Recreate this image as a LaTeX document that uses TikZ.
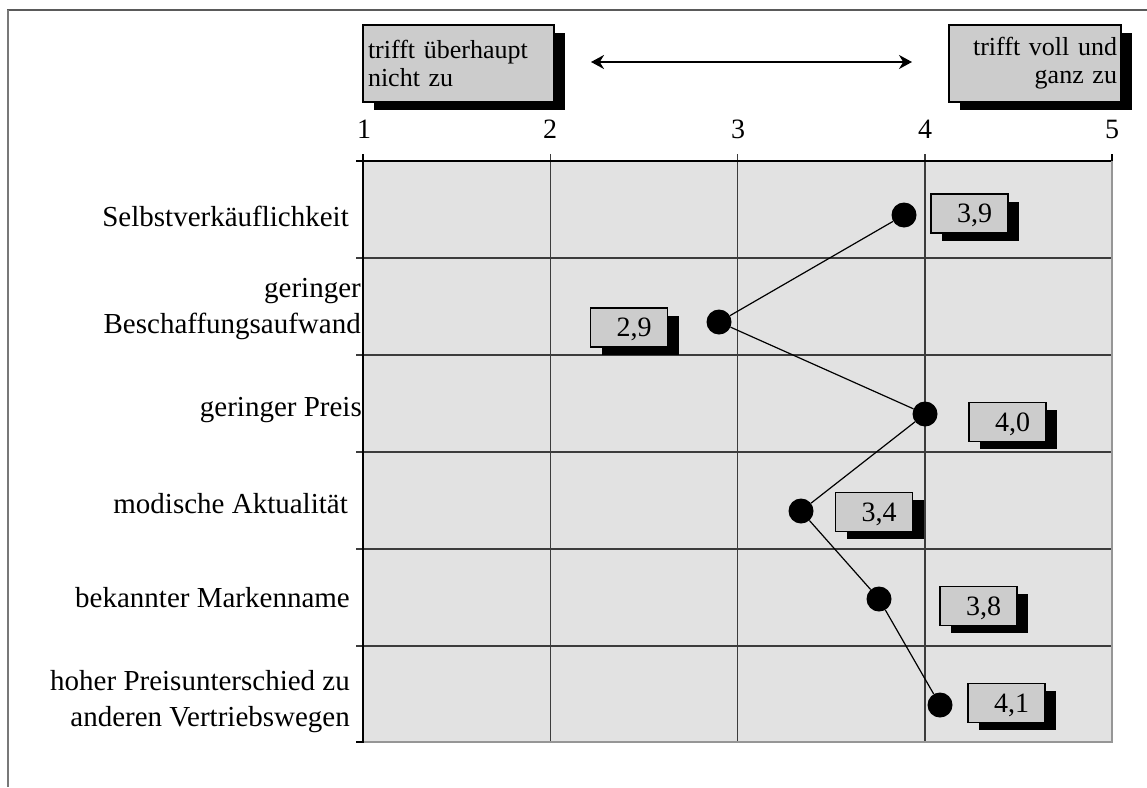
\documentclass[tikz,border=0pt]{standalone}
\usepackage{fontspec}
\setmainfont{Liberation Serif}
\usetikzlibrary{arrows.meta,shadows}
\definecolor{plotgray}{RGB}{226,226,226}
\definecolor{boxgray}{RGB}{204,204,204}
\definecolor{framegray}{RGB}{90,90,90}
\definecolor{leftgray}{RGB}{120,120,120}
\definecolor{edgegray}{RGB}{150,150,150}
\definecolor{gridgray}{RGB}{60,60,60}
\begin{document}
\begin{tikzpicture}[x=1pt,y=-1pt,
  every node/.style={font=\fontsize{29}{36}\selectfont},
  shadowbox/.style={draw=black, fill=boxgray, line width=1.5pt, inner sep=0pt,
    drop shadow={shadow xshift=11pt, shadow yshift=-7.5pt, fill=black, opacity=1}},
  headbox/.style={shadowbox, minimum height=77pt, font=\fontsize{26}{28}\selectfont},
  valbox/.style={shadowbox, minimum width=77pt, minimum height=39pt, text depth=0pt,
    font=\fontsize{28}{30}\selectfont},
  dot/.style={circle, fill=black, minimum size=25pt, inner sep=0pt},
  rowlabel/.style={anchor=east, align=right, inner sep=0pt},
  axisnum/.style={anchor=base, inner sep=0pt, font=\fontsize{28}{30}\selectfont},
  grid/.style={draw=gridgray, line width=1.3pt},
  tick/.style={draw=black, line width=1.3pt},
  edge/.style={draw=edgegray, line width=2pt},
  link/.style={draw=black, line width=1.2pt}]
\useasboundingbox (0,0) rectangle (1147,787);
% outer frame lines
\draw[framegray, line width=1.5pt] (7,10) -- (1147,10);
\draw[leftgray, line width=2.2pt] (8,10) -- (8,787);
% plot area
\fill[plotgray] (363,161) rectangle (1112,742);
\foreach \x in {363,550.3,737.6,924.9} \draw[grid] (\x,154) -- (\x,742);
\foreach \y in {161,258,355,452,549,646} \draw[grid] (356,\y) -- (1112,\y);
\draw[tick] (363,154) -- (363,742);
\draw[tick] (356,161) -- (1112,161);
\draw[tick] (1112,154) -- (1112,161);
\draw[edge] (1112,161) -- (1112,742) -- (363,742);
\draw[tick] (356,742) -- (364,742);
% axis numbers
\node[axisnum] (n1) at (364,138) {1};
\node[axisnum] (n2) at (550,138) {2};
\node[axisnum] (n3) at (738,138) {3};
\node[axisnum] (n4) at (925,138) {4};
\node[axisnum] (n5) at (1112,138) {5};
% header boxes
\node[headbox, minimum width=191pt, text width=181pt, align=left] (lo) at (458.5,63.5) {trifft überhaupt\\nicht zu};
\node[headbox, minimum width=172pt, text width=164pt, align=right] (hi) at (1035,63.5) {trifft voll und\\ganz zu};
\coordinate (al) at (591,62);
\coordinate (ar) at (912,62);
\draw[{Stealth[length=13pt,width=14pt]}-{Stealth[length=13pt,width=14pt]}, line width=2pt] (al) -- (ar);
% row labels
\node[rowlabel] (l1) at (349,216) {Selbstverkäuflichkeit};
\node[rowlabel] (l2) at (361,309) {geringer\\Beschaffungsaufwand};
\node[rowlabel] (l3) at (362,410) {geringer Preis};
\node[rowlabel] (l4) at (348,504) {modische Aktualität};
\node[rowlabel] (l5) at (350,598) {bekannter Markenname};
\node[rowlabel] (l6) at (350,702) {hoher Preisunterschied zu\\anderen Vertriebswegen};
% value boxes
\node[valbox] (v1) at (969.5,213.5) {\kern10pt 3,9};
\node[valbox] (v2) at (629,327.5) {\kern10pt 2,9};
\node[valbox] (v3) at (1007.5,422) {\kern10pt 4,0};
\node[valbox] (v4) at (874,512) {\kern10pt 3,4};
\node[valbox] (v5) at (978.5,606) {\kern10pt 3,8};
\node[valbox] (v6) at (1006.5,703) {\kern10pt 4,1};
% dots
\node[dot] (d1) at (904,215) {};
\node[dot] (d2) at (719,322) {};
\node[dot] (d3) at (925,414) {};
\node[dot] (d4) at (801,511) {};
\node[dot] (d5) at (879,599) {};
\node[dot] (d6) at (940,705) {};
\draw[link] (d1) -- (d2) -- (d3) -- (d4) -- (d5) -- (d6);
\end{tikzpicture}
\end{document}
